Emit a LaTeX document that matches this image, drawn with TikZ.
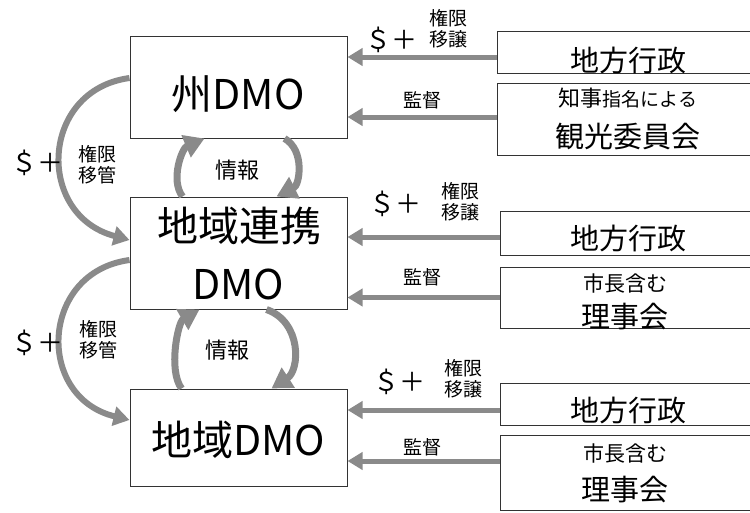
\documentclass[tikz,border=0pt]{standalone}
\usepackage{fontspec}
\setmainfont{Noto Sans CJK JP}
\usetikzlibrary{arrows.meta}
\definecolor{arr}{HTML}{8A8A8A}
\definecolor{boxline}{HTML}{333333}
\tikzset{
  box/.style={draw=boxline, line width=1pt, fill=white, inner sep=0pt},
  harrow/.style={draw=arr, line width=5pt, -{Triangle[length=15pt,width=17pt]}},
  iarrow/.style={draw=arr, line width=7pt, -{Triangle[length=20pt,width=23pt]}},
  larrow/.style={draw=arr, line width=6pt, -{Triangle[length=16pt,width=19pt]}},
  big/.style={font=\fontsize{41}{46}\selectfont, inner sep=0pt},
  mid/.style={font=\fontsize{29}{32}\selectfont, inner sep=0pt},
  sml/.style={font=\fontsize{22}{24}\selectfont, inner sep=0pt},
  lbl/.style={font=\fontsize{19}{24}\selectfont, inner sep=0pt, align=center},
  dol/.style={font=\fontsize{26}{28}\selectfont, inner sep=0pt},
}
\begin{document}
\begin{tikzpicture}[x=1pt,y=-1pt]
\useasboundingbox (0,0) rectangle (750,512);
\clip (0,0) rectangle (750,512);
% left boxes
\node[box, minimum width=217pt, minimum height=102pt] (s1) at (238.5,87) {};
\node[box, minimum width=217pt, minimum height=112pt] (d2) at (238.5,253) {};
\node[box, minimum width=217pt, minimum height=97pt] (d3) at (238.5,437.5) {};
% right boxes
\node[box, minimum width=262pt, minimum height=42pt] (r1) at (628,52) {};
\node[box, minimum width=262pt, minimum height=72pt] (r2) at (628,119) {};
\node[box, minimum width=259pt, minimum height=44pt] (r3) at (629.5,233) {};
\node[box, minimum width=259pt, minimum height=61pt] (r4) at (629.5,297.5) {};
\node[box, minimum width=259pt, minimum height=42pt] (r5) at (629.5,404) {};
\node[box, minimum width=259pt, minimum height=75pt] (r6) at (629.5,472.5) {};
% box texts
\node[big] (t1) at (238,94) {州DMO};
\node[big] (t2) at (239,226) {地域連携};
\node[big] (t3) at (238,284) {DMO};
\node[big] (t4) at (238,440) {地域DMO};
\node[mid] (u1) at (628,60) {地方行政};
\node[font=\fontsize{22}{24}\selectfont, inner sep=0pt] (u2) at (628,98) {知事{\fontsize{19}{22}\selectfont 指名による}};
\node[mid] (u3) at (628,137) {観光委員会};
\node[mid] (u4) at (628,238) {地方行政};
\node[font=\fontsize{21}{24}\selectfont, inner sep=0pt] (u5) at (625,283) {市長含む};
\node[mid] (u6) at (625,317) {理事会};
\node[mid] (u7) at (628,410) {地方行政};
\node[font=\fontsize{21}{24}\selectfont, inner sep=0pt] (u8) at (625,453) {市長含む};
\node[mid] (u9) at (625,490) {理事会};
% horizontal arrows
\coordinate (a1) at ([yshift=-5pt]r1.west);
\coordinate (a2) at ([yshift=2pt]r2.west);
\coordinate (a3) at ([yshift=-4pt]r3.west);
\coordinate (a4) at (r4.west);
\coordinate (a5) at ([yshift=-6pt]r5.west);
\coordinate (a6) at ([yshift=11.5pt]r6.west);
\draw[harrow] (a1) -- (a1 -| s1.east);
\draw[harrow] (a2) -- (a2 -| s1.east);
\draw[harrow] (a3) -- (a3 -| d2.east);
\draw[harrow] (a4) -- (a4 -| d2.east);
\draw[harrow] (a5) -- (a5 -| d3.east);
\draw[harrow] (a6) -- (a6 -| d3.east);
% horizontal labels
\node[dol] (p1) at (391,40) {＄＋};
\node[lbl] (k1) at (448,29) {権限\\[-3pt]移譲};
\node[lbl] (m1) at (422,100) {監督};
\node[dol] (p2) at (395,204) {＄＋};
\node[lbl] (k2) at (460,202) {権限\\[-3pt]移譲};
\node[lbl] (m2) at (422,277) {監督};
\node[dol] (p3) at (399,382) {＄＋};
\node[lbl] (k3) at (463,379) {権限\\[-3pt]移譲};
\node[lbl] (m3) at (422,447) {監督};
% left arcs
\draw[larrow] ([yshift=9pt]s1.west) .. controls (40,90) and (35,215) .. ([yshift=13pt]d2.west);
\draw[larrow] ([yshift=-7pt]d2.west) .. controls (40,272) and (35,397) .. ([yshift=17.5pt]d3.west);
\node[dol] (p4) at (37,163) {＄＋};
\node[lbl] (k4) at (97,165) {権限\\[-3pt]移管};
\node[dol] (p5) at (37,343) {＄＋};
\node[lbl] (k5) at (98,340) {権限\\[-3pt]移管};
% info arrows
\draw[iarrow] ([xshift=53pt]d2.north west) .. controls (170,180) and (182,148) .. ([xshift=75pt]s1.south west);
\draw[iarrow] ([xshift=155pt]s1.south west) .. controls (305,150) and (300,185) .. ([xshift=147pt]d2.north west);
\node[lbl, font=\fontsize{22}{24}\selectfont] (i1) at (237,170) {情報};
\draw[iarrow] ([xshift=52pt]d3.north west) .. controls (168,370) and (178,322) .. ([xshift=70pt]d2.south west);
\draw[iarrow] ([xshift=137pt]d2.south west) .. controls (302,322) and (300,370) .. ([xshift=142pt]d3.north west);
\node[lbl, font=\fontsize{22}{24}\selectfont] (i2) at (227,350) {情報};
\end{tikzpicture}
\end{document}
